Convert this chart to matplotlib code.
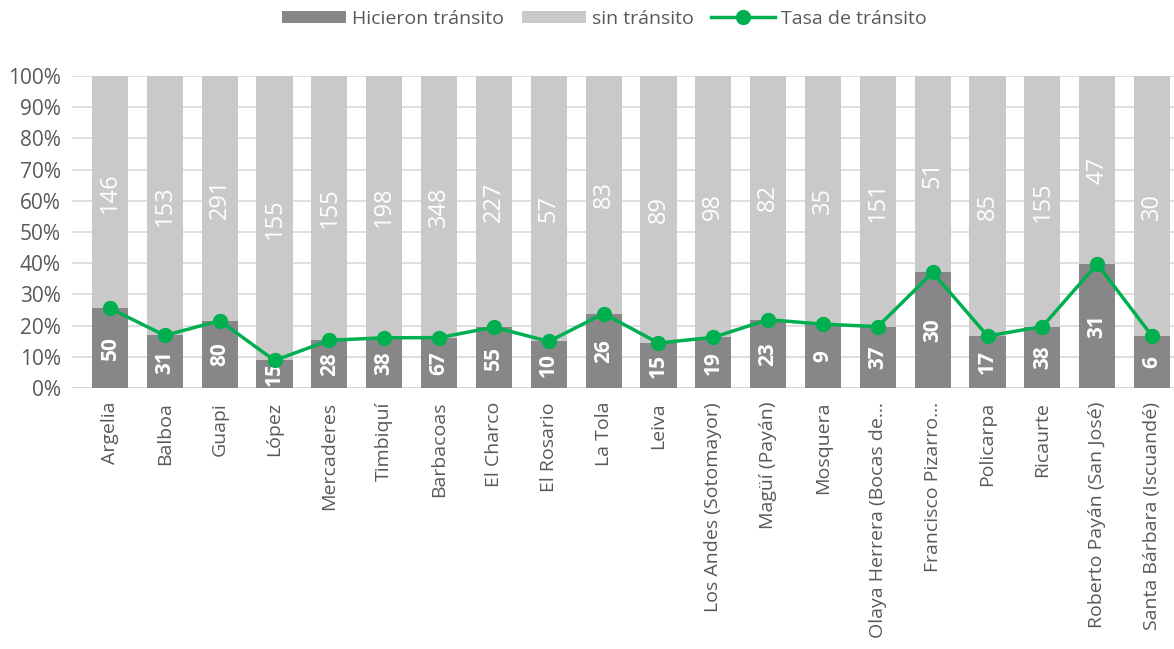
import matplotlib.pyplot as plt
import numpy as np

plt.rcParams['font.family'] = ['Open Sans', 'DejaVu Sans']

municipios = ['Argelia', 'Balboa', 'Guapi', 'López', 'Mercaderes', 'Timbiquí',
              'Barbacoas', 'El Charco', 'El Rosario', 'La Tola', 'Leiva',
              'Los Andes (Sotomayor)', 'Magüí (Payán)', 'Mosquera',
              'Olaya Herrera (Bocas de…', 'Francisco Pizarro…', 'Policarpa',
              'Ricaurte', 'Roberto Payán (San José)', 'Santa Bárbara (Iscuandé)']
hicieron = [50, 31, 80, 15, 28, 38, 67, 55, 10, 26, 15, 19, 23, 9, 37, 30, 17, 38, 31, 6]
sin_transito = [146, 153, 291, 155, 155, 198, 348, 227, 57, 83, 89, 98, 82, 35, 151, 51, 85, 155, 47, 30]

h = np.array(hicieron, dtype=float)
s = np.array(sin_transito, dtype=float)
tot = h + s
tasa = h / tot
resto = s / tot

dark = '#878787'
light = '#C9C9C9'
green = '#00B050'
txt = '#595959'

fig = plt.figure(figsize=(11.74, 6.49), dpi=100)
ax = fig.add_axes([72 / 1174, 1 - 388 / 649, 1 - 72 / 1174, (388 - 76) / 649])

x = np.arange(len(municipios))
w = 0.66
b1 = ax.bar(x, tasa, w, color=dark, label='Hicieron tránsito', zorder=2)
b2 = ax.bar(x, resto, w, bottom=tasa, color=light, label='sin tránsito', zorder=2)
ln, = ax.plot(x, tasa, color=green, lw=2.5, marker='o', ms=10, label='Tasa de tránsito', zorder=4)

for i in range(len(x)):
    ax.text(x[i], tasa[i] / 2, str(hicieron[i]), rotation=90, ha='center', va='center',
            color='white', fontsize=15, fontweight='bold', zorder=3)
    ax.text(x[i], tasa[i] + resto[i] / 2, str(sin_transito[i]), rotation=90, ha='center',
            va='center', color='white', fontsize=17, zorder=3)

ax.set_ylim(0, 1)
ax.set_xlim(-0.693, 19.40)
ax.set_yticks(np.arange(0, 1.01, 0.1))
ax.set_yticklabels([f'{int(round(v * 100))}%' for v in np.arange(0, 1.01, 0.1)])
ax.set_xticks(x)
ax.set_xticklabels(municipios, rotation=90)
ax.tick_params(axis='y', length=0, labelsize=15, colors=txt, pad=8)
ax.tick_params(axis='x', length=0, labelsize=14, colors=txt, pad=10)
ax.yaxis.grid(True, color='#D9D9D9', lw=1.2, zorder=0)
for sp in ax.spines.values():
    sp.set_visible(False)
ax.axhline(0, color='#D9D9D9', lw=1.5, zorder=1)

fig.legend(handles=[b1, b2, ln], loc='upper center', bbox_to_anchor=(0.515, 1.012), ncol=3,
           frameon=False, fontsize=14, labelcolor=txt, handlelength=3.3, handleheight=0.6,
           columnspacing=0.9, handletextpad=0.3)

fig.savefig('out.png', dpi=100)
